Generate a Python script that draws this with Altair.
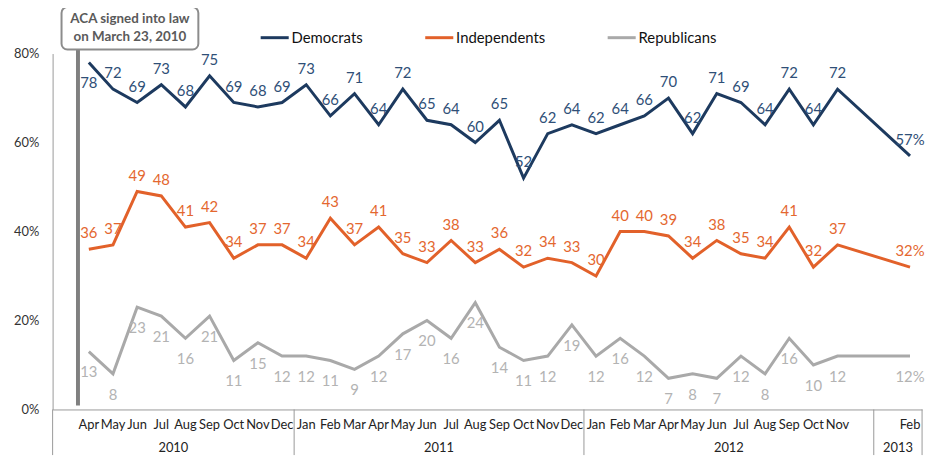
import altair as alt
import pandas as pd

# ---------------- data ----------------
years = [2010] * 9 + [2011] * 12 + [2012] * 11 + [2013]
months = ["Apr", "May", "Jun", "Jul", "Aug", "Sep", "Oct", "Nov", "Dec",
          "Jan", "Feb", "Mar", "Apr", "May", "Jun", "Jul", "Aug", "Sep", "Oct", "Nov", "Dec",
          "Jan", "Feb", "Mar", "Apr", "May", "Jun", "Jul", "Aug", "Sep", "Oct", "Nov",
          "Feb"]
democrats = [78, 72, 69, 73, 68, 75, 69, 68, 69,
             73, 66, 71, 64, 72, 65, 64, 60, 65, 52, 62, 64,
             62, 64, 66, 70, 62, 71, 69, 64, 72, 64, 72,
             57]
independents = [36, 37, 49, 48, 41, 42, 34, 37, 37,
                34, 43, 37, 41, 35, 33, 38, 33, 36, 32, 34, 33,
                30, 40, 40, 39, 34, 38, 35, 34, 41, 32, 37,
                32]
republicans = [13, 8, 23, 21, 16, 21, 11, 15, 12,
               12, 11, 9, 12, 17, 20, 16, 24, 14, 11, 12, 19,
               12, 16, 12, 7, 8, 7, 12, 8, 16, 10, 12,
               12]
parties = ["Democrats", "Independents", "Republicans"]
line_colors = ["#1d3a5f", "#e2612a", "#a9a9a9"]
label_colors = ["#2f4f77", "#e4672f", "#b3b3b3"]
y_ticks = [0, 20, 40, 60, 80]
aca_text = "ACA signed into law\non March 23, 2010"
aca_position = 2.55  # month index (Jan 2010 = 0) of the signing marker

# ---------------- derived tables ----------------
MONTH_NAMES = ["Jan", "Feb", "Mar", "Apr", "May", "Jun", "Jul", "Aug", "Sep", "Oct", "Nov", "Dec"]
idx = [(y - 2010) * 12 + MONTH_NAMES.index(m) for y, m in zip(years, months)]
last_idx = idx[-1]

rows = []
for party, series in zip(parties, [democrats, independents, republicans]):
    for i, v in zip(idx, series):
        lab = f"{v}%" if i == last_idx else f"{v}"
        rows.append({"idx": i, "value": v, "party": party, "label": lab})
df = pd.DataFrame(rows)

month_df = pd.DataFrame({"idx": idx, "month": months})

uniq_years = sorted(set(years))
x_min = idx[0] - 1.5
x_max = idx[-1] + 0.5
bounds = [x_min]
for a, b in zip(uniq_years[:-1], uniq_years[1:]):
    last_a = max(i for i, y in zip(idx, years) if y == a)
    first_b = min(i for i, y in zip(idx, years) if y == b)
    bounds.append((last_a + first_b) / 2)
bounds.append(x_max)
sep_df = pd.DataFrame({"sep": bounds})
year_df = pd.DataFrame({"year": [str(y) for y in uniq_years],
                        "center": [(bounds[k] + bounds[k + 1]) / 2 for k in range(len(uniq_years))]})
aca_df = pd.DataFrame({"pos": [aca_position], "text": [aca_text]})

# ---------------- chart ----------------
W, H = 877, 359
FONT = "Lato"
xscale = alt.Scale(domain=[x_min, x_max], nice=False, zero=False)
yscale = alt.Scale(domain=[0, 80], nice=False)

x_enc = alt.X("idx:Q", scale=xscale,
              axis=alt.Axis(labels=False, ticks=False, grid=False, title=None,
                            domainColor="#999999"))
y_enc = alt.Y("value:Q", scale=yscale,
              axis=alt.Axis(values=y_ticks, labelExpr="datum.value + '%'", grid=False,
                            ticks=False, title=None, domainColor="#999999",
                            labelPadding=14, labelFontSize=13, labelColor="#333333",
                            labelFont=FONT))

separators = alt.Chart(sep_df).mark_rule(color="#999999", strokeWidth=1).encode(
    x=alt.X("sep:Q", scale=xscale),
    y=alt.value(H), y2=alt.value(H + 46))

aca_rule = alt.Chart(aca_df).mark_rule(color="#808080", strokeWidth=4).encode(
    x=alt.X("pos:Q", scale=xscale),
    y=alt.value(-10), y2=alt.value(H - 4))

lines = alt.Chart(df).mark_line(strokeWidth=3).encode(
    x=x_enc, y=y_enc,
    color=alt.Color("party:N",
                    scale=alt.Scale(domain=parties, range=line_colors),
                    legend=alt.Legend(orient="none", legendX=208, legendY=-32,
                                      direction="horizontal", title=None,
                                      symbolType="stroke", symbolStrokeWidth=3,
                                      symbolSize=800, labelFontSize=15, labelFont=FONT,
                                      labelColor="#111111", columnPadding=56,
                                      labelOffset=1)))

label_color = alt.Color("party:N", scale=alt.Scale(domain=parties, range=label_colors),
                        legend=None)
below_test = "datum.party == 'Republicans' || (datum.party == 'Democrats' && datum.value >= 78)"

labels_above = alt.Chart(df).transform_filter("!(" + below_test + ")").mark_text(
    fontSize=15, font=FONT, dy=-16, baseline="middle").encode(
    x=alt.X("idx:Q", scale=xscale), y=alt.Y("value:Q", scale=yscale),
    text="label:N", color=label_color)

labels_below = alt.Chart(df).transform_filter(below_test).mark_text(
    fontSize=15, font=FONT, dy=21, baseline="middle").encode(
    x=alt.X("idx:Q", scale=xscale), y=alt.Y("value:Q", scale=yscale),
    text="label:N", color=label_color)

box = alt.Chart(aca_df).mark_rect(cornerRadius=6, fill="white", stroke="#8c8c8c",
                                  strokeWidth=2).encode(
    x=alt.value(9), x2=alt.value(147), y=alt.value(-47), y2=alt.value(-4))

box_text = alt.Chart(aca_df).mark_text(fontSize=13.5, font=FONT, fontWeight="bold",
                                       color="#5a5a5a", lineBreak="\n", lineHeight=18,
                                       baseline="top", align="center").encode(
    x=alt.value(78), y=alt.value(-42), text="text:N")

month_labels = alt.Chart(month_df).mark_text(fontSize=13, font=FONT, color="#222222",
                                             baseline="middle").encode(
    x=alt.X("idx:Q", scale=xscale), y=alt.value(H + 16), text="month:N")

year_labels = alt.Chart(year_df).mark_text(fontSize=13, font=FONT, color="#222222",
                                           baseline="middle").encode(
    x=alt.X("center:Q", scale=xscale), y=alt.value(H + 39), text="year:N")

chart = alt.layer(
    separators, aca_rule, lines, labels_above, labels_below, box, box_text,
    month_labels, year_labels
).resolve_scale(color="independent").properties(
    width=W, height=H,
    autosize=alt.AutoSizeParams(type="none"),
    padding={"left": 45, "top": 44, "right": 9, "bottom": 46},
    background="white",
).configure_view(stroke=None)

chart.save("out.html", embed_options={"renderer": "svg", "actions": False})
